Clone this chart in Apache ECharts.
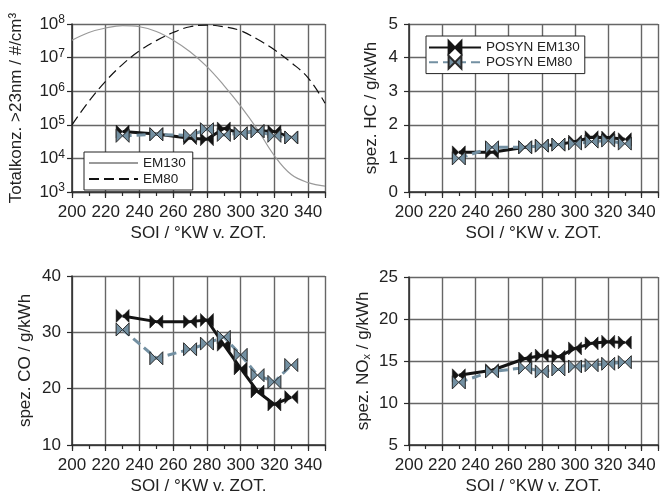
<!DOCTYPE html>
<html><head><meta charset="utf-8">
<script src="https://cdn.jsdelivr.net/npm/echarts@6/dist/echarts.min.js"></script>
<style>html,body{margin:0;padding:0;background:#fff}#c{width:661px;height:497px}</style>
</head><body><div id="c"></div><script>
// SOI values of the measurement points
const soi = [230, 250, 270, 280, 290, 300, 310, 320, 330];
// SOI values of the reference curves
const soiRef = [200, 210, 220, 230, 240, 250, 260, 270, 280, 290, 300, 310, 320, 330, 340, 350];

// Total concentration >23nm (#/cm3)
const tnPosynEM130 = [6.3e4, 5.3e4, 4.0e4, 3.7e4, 7.8e4, 5.6e4, 6.6e4, 6.3e4, 4.2e4];
const tnPosynEM80  = [4.7e4, 5.2e4, 4.8e4, 7.4e4, 5.0e4, 5.6e4, 6.4e4, 4.7e4, 4.2e4];
const tnRefEM130 = [3.3e7, 5.6e7, 7.6e7, 8.9e7, 8.3e7, 6.0e7, 3.3e7, 1.5e7, 5.4e6, 1.5e6, 3.6e5, 7.2e4, 1.2e4, 3.3e3, 1.9e3, 1.5e3];
const tnRefEM80  = [1.0e5, 5.0e5, 2.0e6, 6.3e6, 1.6e7, 3.2e7, 5.6e7, 8.3e7, 9.3e7, 8.3e7, 6.3e7, 3.5e7, 1.7e7, 7.1e6, 2.5e6, 4.4e5];

// HC g/kWh
const hcEM130 = [1.18, 1.18, 1.33, 1.38, 1.41, 1.50, 1.63, 1.62, 1.57];
const hcEM80  = [1.00, 1.33, 1.33, 1.38, 1.41, 1.44, 1.50, 1.53, 1.44];
// CO g/kWh
const coEM130 = [32.9, 31.9, 31.9, 32.2, 27.8, 23.6, 19.5, 17.2, 18.5];
const coEM80  = [30.5, 25.4, 27.0, 28.0, 29.2, 26.0, 22.4, 21.2, 24.2];
// NOx g/kWh
const noxEM130 = [13.3, 13.9, 15.3, 15.65, 15.5, 16.5, 17.1, 17.3, 17.2];
const noxEM80  = [12.45, 13.76, 14.2, 13.76, 14.0, 14.35, 14.5, 14.67, 14.86];

const xTitle = 'SOI / °KW v. ZOT.';
const yTitles = ['Totalkonz. >23nm / #/cm³', 'spez. HC / g/kWh', 'spez. CO / g/kWh', 'spez. NO{sub|x} / g/kWh'];

const FONT = 'Liberation Sans, Arial, sans-serif';
const FS = 17;
const TXT = '#222';
const GRIDC = '#666';
const AXC = '#2a2a2a';
const BOWTIE = 'path://M0,0L10,6L0,12ZM20,0L10,6L20,12Z';
const NOSYM = 'path://M0,0L0.001,0L0,0.001Z';
const BLUE = '#7390a2';

const grids = [
  {left: 72, top: 24, width: 253, height: 168},
  {left: 409, top: 24, width: 253, height: 168},
  {left: 72, top: 276, width: 253, height: 169},
  {left: 409, top: 277, width: 253, height: 168}
];

const xAxes = [];
grids.forEach((g, i) => {
  xAxes.push({
    type: 'value', gridIndex: i, min: 200, max: 350, interval: 20,
    name: xTitle, nameLocation: 'middle', nameGap: 33,
    nameTextStyle: {fontFamily: FONT, fontSize: FS, color: TXT},
    axisLine: {show: true, lineStyle: {color: AXC, width: 1.5}},
    axisTick: {show: true, inside: false, length: 6, lineStyle: {color: AXC, width: 1.2}},
    axisLabel: {fontFamily: FONT, fontSize: FS, color: TXT, margin: 12,
      formatter: v => (v === 350 ? '' : String(v))},
    splitLine: {show: true, lineStyle: {color: GRIDC, width: 1.4}}
  });
  xAxes.push({
    type: 'value', gridIndex: i, min: 200, max: 350, interval: 10, position: 'bottom',
    axisLine: {show: false}, axisLabel: {show: false}, splitLine: {show: false},
    axisTick: {show: true, length: 4, lineStyle: {color: AXC, width: 1.2}}
  });
});

function yBase(i, extra) {
  const nameGaps = [47, 29, 38, 37];
  return Object.assign({
    gridIndex: i, name: yTitles[i], nameLocation: 'middle', nameGap: nameGaps[i],
    nameTextStyle: {fontFamily: FONT, fontSize: FS, color: TXT,
      rich: {sub: {fontFamily: FONT, fontSize: 11, color: TXT, verticalAlign: 'bottom', padding: [6, 0, 0, 0]}}},
    axisLine: {show: true, lineStyle: {color: AXC, width: 1.5}},
    axisTick: {show: true, length: 5, lineStyle: {color: AXC, width: 1.2}},
    axisLabel: {fontFamily: FONT, fontSize: FS, color: TXT, margin: 11},
    splitLine: {show: true, lineStyle: {color: GRIDC, width: 1.4}}
  }, extra);
}

const yAxes = [
  yBase(0, {type: 'log', logBase: 10, min: 1e3, max: 1e8,
    axisLabel: {fontFamily: FONT, fontSize: FS, color: TXT, margin: 7,
      formatter: v => '10{sup|' + Math.round(Math.log10(v)) + '}',
      rich: {sup: {fontFamily: FONT, fontSize: 12, color: TXT, verticalAlign: 'top', padding: [0, 0, 8, 0]}}}}),
  yBase(1, {type: 'value', min: 0, max: 5, interval: 1}),
  yBase(2, {type: 'value', min: 10, max: 40, interval: 10}),
  yBase(3, {type: 'value', min: 5, max: 25, interval: 5})
];

const pair = (xs, ys) => xs.map((x, i) => [x, ys[i]]);

function posyn(i, name, data) {
  const black = name === 'POSYN EM130';
  return {
    type: 'line', name: name, xAxisIndex: 2 * i, yAxisIndex: i,
    data: pair(soi, data), symbol: BOWTIE, symbolSize: [13, 13],
    lineStyle: black ? {color: '#141414', width: 3} : {color: BLUE, width: 3, type: [9, 5]},
    itemStyle: black ? {color: '#141414', borderColor: '#141414', borderWidth: 0.5}
                     : {color: BLUE, borderColor: '#2a2a2a', borderWidth: 1},
    z: black ? 3 : 4, animation: false
  };
}

const series = [
  {type: 'line', name: 'EM130', xAxisIndex: 0, yAxisIndex: 0, data: pair(soiRef, tnRefEM130),
    smooth: 0.4, symbol: NOSYM, showSymbol: false, lineStyle: {color: '#9a9a9a', width: 1.2},
    itemStyle: {color: '#9a9a9a', opacity: 0}, animation: false},
  {type: 'line', name: 'EM80', xAxisIndex: 0, yAxisIndex: 0, data: pair(soiRef, tnRefEM80),
    smooth: 0.4, symbol: NOSYM, showSymbol: false, lineStyle: {color: '#111', width: 1.2, type: [10, 5]},
    itemStyle: {color: '#111', opacity: 0}, animation: false},
  posyn(0, 'POSYN EM130', tnPosynEM130), posyn(0, 'POSYN EM80', tnPosynEM80),
  posyn(1, 'POSYN EM130', hcEM130), posyn(1, 'POSYN EM80', hcEM80),
  posyn(2, 'POSYN EM130', coEM130), posyn(2, 'POSYN EM80', coEM80),
  posyn(3, 'POSYN EM130', noxEM130), posyn(3, 'POSYN EM80', noxEM80)
];

const legendCommon = {
  orient: 'vertical', backgroundColor: '#fff', borderColor: '#222', borderWidth: 1,
  borderRadius: 0,
  textStyle: {fontFamily: FONT, fontSize: 13.5, color: TXT}
};

const chart = echarts.init(document.getElementById('c'), null, {renderer: 'canvas'});
chart.setOption({
  animation: false,
  backgroundColor: '#fff',
  grid: grids,
  xAxis: xAxes,
  yAxis: yAxes,
  legend: [
    Object.assign({}, legendCommon, {data: ['EM130', 'EM80'], left: 84, top: 152, itemWidth: 49,
      itemHeight: 14, itemGap: 2, padding: [4, 7, 4, 4]}),
    Object.assign({}, legendCommon, {data: ['POSYN EM130', 'POSYN EM80'], left: 426, top: 36, itemWidth: 52,
      itemHeight: 16, itemGap: 0, padding: [4, 5, 4, 2]})
  ],
  series: series
});
</script></body></html>
